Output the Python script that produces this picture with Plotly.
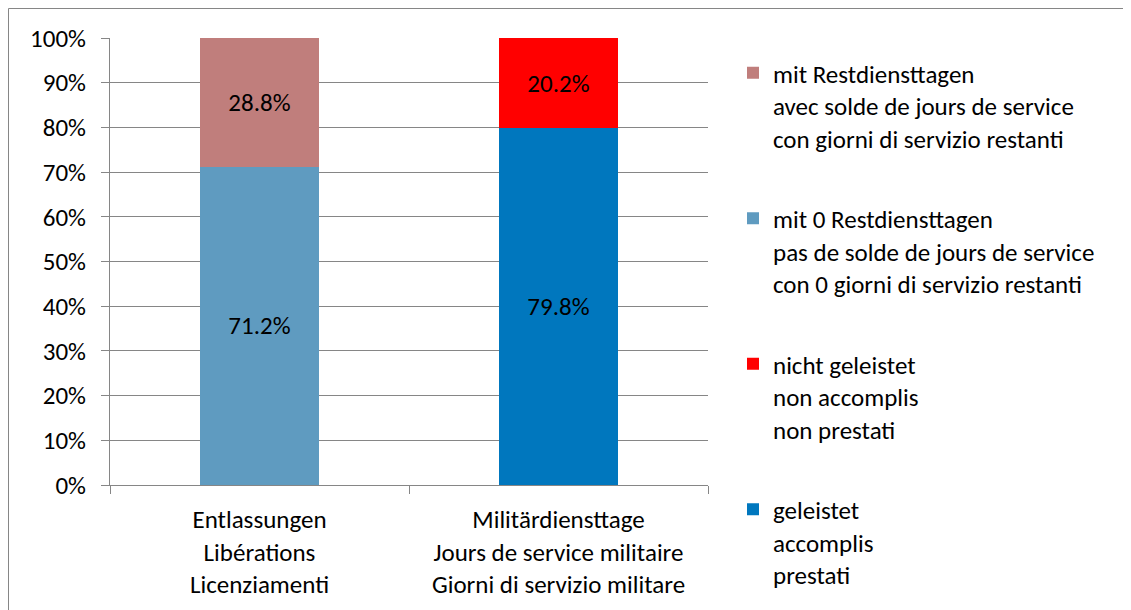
import plotly.graph_objects as go

categories = ["Entlassungen<br>Libérations<br>Licenziamenti",
              "Militärdiensttage<br>Jours de service militaire<br>Giorni di servizio militare"]
series_names = [
    "geleistet<br>accomplis<br>prestati",
    "nicht geleistet<br>non accomplis<br>non prestati",
    "mit 0 Restdiensttagen<br>pas de solde de jours de service<br>con 0 giorni di servizio restanti",
    "mit Restdiensttagen<br>avec solde de jours de service<br>con giorni di servizio restanti",
]
geleistet = [None, 79.8]
nicht_geleistet = [None, 20.2]
mit_0 = [71.2, None]
mit_rest = [28.8, None]
series_values = [geleistet, nicht_geleistet, mit_0, mit_rest]
colors = ["#0077BE", "#FF0000", "#5F9BC0", "#C07E7C"]
y_ticks = [0, 10, 20, 30, 40, 50, 60, 70, 80, 90, 100]
y_tick_labels = [f"{v}%" for v in y_ticks]

FONT = "Carlito, Lato, sans-serif"
FS = 25

fig = go.Figure()
for i, (name, vals, col) in enumerate(zip(series_names, series_values, colors)):
    fig.add_trace(go.Bar(
        x=categories, y=vals, name=name, legendgroup=f"g{i}",
        legendrank=1000 - i,
        marker=dict(color=col, line=dict(width=0)),
        text=[f"{v:.1f}%" if v is not None else "" for v in vals],
        textposition="inside", insidetextanchor="middle",
        textfont=dict(color="black", size=FS, family=FONT),
        hoverinfo="skip",
    ))

W, H = 1131, 610
L, R, T, B = 102, 700, 30, 477
pw, ph = R - L, B - T

def px(x):
    return (x - L) / pw

def py(y):
    return (B - y) / ph

border = dict(color="#868686", width=1)

fig.update_layout(
    width=W, height=H,
    margin=dict(l=L, r=W - R, t=T, b=H - B, autoexpand=False),
    barmode="stack", bargap=0.6,
    plot_bgcolor="white", paper_bgcolor="white",
    font=dict(family=FONT, size=FS, color="black"),
    showlegend=True,
    legend=dict(
        x=px(725), xanchor="left", y=py(42), yanchor="top",
        traceorder="grouped", tracegroupgap=45, maxheight=580,
        valign="top", font=dict(size=FS, family=FONT),
        bgcolor="rgba(0,0,0,0)",
    ),
    xaxis=dict(
        showline=True, linecolor="#868686", linewidth=1,
        ticks="outside", tickson="boundaries", ticklen=8, tickcolor="#868686",
        tickfont=dict(size=FS), showgrid=False, ticklabelstandoff=12,
        automargin=False,
    ),
    yaxis=dict(
        range=[0, 100], tickvals=y_ticks, ticktext=y_tick_labels,
        showline=True, linecolor="#868686", linewidth=1,
        ticks="outside", ticklen=8, tickcolor="#868686",
        showgrid=True, gridcolor="#868686", gridwidth=1,
        tickfont=dict(size=FS), zeroline=False, ticklabelstandoff=10,
        automargin=False,
    ),
    shapes=[
        dict(type="line", xref="paper", yref="paper",
             x0=px(0.5), x1=px(1200), y0=py(0.5), y1=py(0.5), line=border, layer="below"),
        dict(type="line", xref="paper", yref="paper",
             x0=px(0.5), x1=px(0.5), y0=py(0.5), y1=py(700), line=border, layer="below"),
    ],
)

fig.write_html("out.html")
